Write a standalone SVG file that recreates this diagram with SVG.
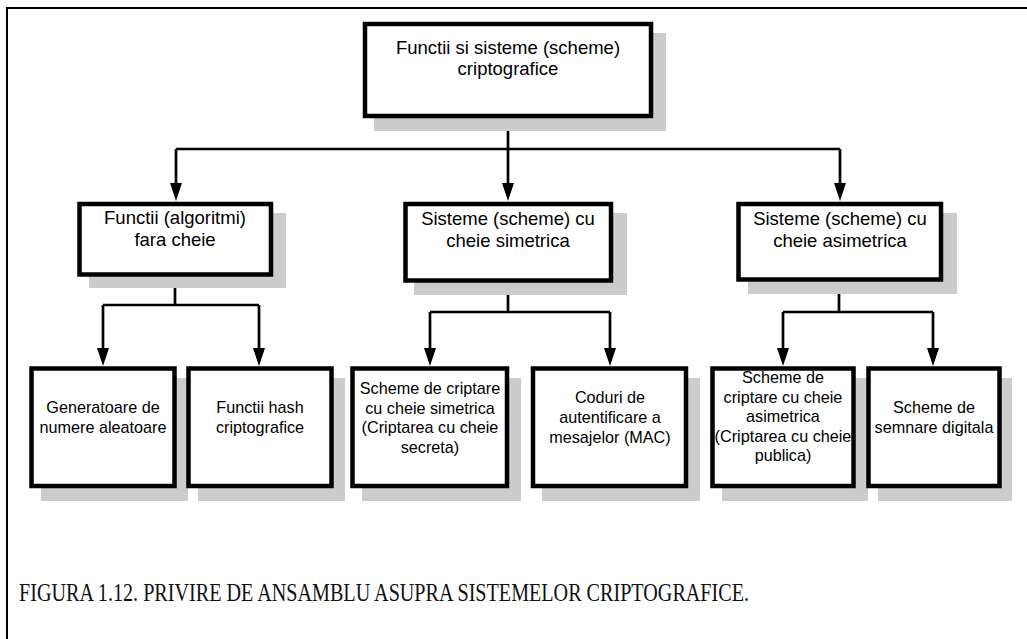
<svg xmlns="http://www.w3.org/2000/svg" width="1027" height="639" viewBox="0 0 1027 639">
  <defs>
    <style>
      .frame { fill: none; stroke: #000; stroke-width: 2; }
      .shadow { fill: #cccccc; stroke: none; }
      .box { fill: #fff; stroke: #000; stroke-width: 4.5; }
      .wire { fill: none; stroke: #000; stroke-width: 2.7; }
      .head { fill: #000; stroke: none; }
      .lbl { font-family: "Liberation Sans", Arial, sans-serif; fill: #000; text-anchor: middle; }
      .big { font-size: 18.5px; }
      .small { font-size: 16.2px; }
      .caption { font-family: "Liberation Serif", "DejaVu Serif", serif; font-size: 26px; fill: #111; }
    </style>
  </defs>

  <rect width="1027" height="639" fill="#fff"/>
  <path class="frame" d="M7,639 L7,8 L1027,8"/>

  <!-- connectors: lines plus filled arrowheads -->
  <g id="connectors">
    <!-- root to second level -->
    <path class="wire" d="M508,118 L508,184"/>
    <path class="wire" d="M176,149 L840,149"/>
    <path class="wire" d="M176,149 L176,184"/>
    <path class="wire" d="M840,149 L840,184"/>
    <path class="head" d="M170,183 L182,183 L176,201 Z"/>
    <path class="head" d="M502,183 L514,183 L508,201 Z"/>
    <path class="head" d="M834,183 L846,183 L840,201 Z"/>

    <!-- keyless functions -->
    <path class="wire" d="M175,277 L175,305"/>
    <path class="wire" d="M103,305 L259,305"/>
    <path class="wire" d="M103,305 L103,349"/>
    <path class="wire" d="M259,305 L259,349"/>
    <path class="head" d="M97,348 L109,348 L103,366 Z"/>
    <path class="head" d="M253,348 L265,348 L259,366 Z"/>

    <!-- symmetric key -->
    <path class="wire" d="M508,283 L508,312"/>
    <path class="wire" d="M430,312 L610,312"/>
    <path class="wire" d="M430,312 L430,349"/>
    <path class="wire" d="M610,312 L610,349"/>
    <path class="head" d="M424,348 L436,348 L430,366 Z"/>
    <path class="head" d="M604,348 L616,348 L610,366 Z"/>

    <!-- asymmetric key -->
    <path class="wire" d="M839,282 L839,312"/>
    <path class="wire" d="M783,312 L933,312"/>
    <path class="wire" d="M783,312 L783,349"/>
    <path class="wire" d="M933,312 L933,349"/>
    <path class="head" d="M777,348 L789,348 L783,366 Z"/>
    <path class="head" d="M927,348 L939,348 L933,366 Z"/>
  </g>

  <!-- root -->
  <g id="root">
    <rect class="shadow" x="374" y="33" width="292" height="98"/>
    <rect class="box" x="365" y="24" width="286" height="92"/>
    <text class="lbl big" x="508" y="54">Functii si sisteme (scheme)</text>
    <text class="lbl big" x="508" y="75">criptografice</text>
  </g>

  <!-- second level -->
  <g id="keyless">
    <rect class="shadow" x="89" y="213" width="197" height="75"/>
    <rect class="box" x="79.5" y="204" width="191.5" height="70.5"/>
    <text class="lbl big" x="175" y="224">Functii (algoritmi)</text>
    <text class="lbl big" x="175" y="246">fara cheie</text>
  </g>

  <g id="symmetric">
    <rect class="shadow" x="414" y="213" width="213" height="82"/>
    <rect class="box" x="405.5" y="204" width="205.5" height="76.5"/>
    <text class="lbl big" x="508" y="225">Sisteme (scheme) cu</text>
    <text class="lbl big" x="508" y="247">cheie simetrica</text>
  </g>

  <g id="asymmetric">
    <rect class="shadow" x="748" y="213" width="209" height="81"/>
    <rect class="box" x="738.5" y="204" width="202.5" height="75.5"/>
    <text class="lbl big" x="840" y="225">Sisteme (scheme) cu</text>
    <text class="lbl big" x="840" y="247">cheie asimetrica</text>
  </g>

  <!-- third level -->
  <g id="rng">
    <rect class="shadow" x="41" y="378" width="147" height="123"/>
    <rect class="box" x="31.5" y="368.5" width="143" height="117.5"/>
    <text class="lbl small" x="103" y="413">Generatoare de</text>
    <text class="lbl small" x="103" y="433">numere aleatoare</text>
  </g>

  <g id="hash">
    <rect class="shadow" x="198" y="378" width="147" height="123"/>
    <rect class="box" x="188.5" y="368.5" width="143" height="117.5"/>
    <text class="lbl small" x="260" y="413">Functii hash</text>
    <text class="lbl small" x="260" y="433">criptografice</text>
  </g>

  <g id="symmetric-encryption">
    <rect class="shadow" x="362" y="378" width="159" height="123"/>
    <rect class="box" x="352.5" y="368.5" width="154.5" height="117.5"/>
    <text class="lbl small" x="430" y="394">Scheme de criptare</text>
    <text class="lbl small" x="430" y="413.5">cu cheie simetrica</text>
    <text class="lbl small" x="430" y="433">(Criptarea cu cheie</text>
    <text class="lbl small" x="430" y="452.5">secreta)</text>
  </g>

  <g id="mac">
    <rect class="shadow" x="542" y="378" width="158" height="123"/>
    <rect class="box" x="533" y="368.5" width="153" height="117.5"/>
    <text class="lbl small" x="610" y="403">Coduri de</text>
    <text class="lbl small" x="610" y="423">autentificare a</text>
    <text class="lbl small" x="610" y="442.5">mesajelor (MAC)</text>
  </g>

  <g id="public-key-encryption">
    <rect class="shadow" x="722" y="378" width="146" height="123"/>
    <rect class="box" x="712.5" y="368.5" width="141" height="117.5"/>
    <text class="lbl small" x="783" y="383">Scheme de</text>
    <text class="lbl small" x="783" y="403">criptare cu cheie</text>
    <text class="lbl small" x="783" y="422">asimetrica</text>
    <text class="lbl small" x="783" y="442">(Criptarea cu cheie</text>
    <text class="lbl small" x="783" y="461">publica)</text>
  </g>

  <g id="signatures">
    <rect class="shadow" x="878" y="378" width="134" height="123"/>
    <rect class="box" x="868.5" y="368.5" width="131" height="117.5"/>
    <text class="lbl small" x="934" y="413">Scheme de</text>
    <text class="lbl small" x="934" y="433">semnare digitala</text>
  </g>

  <text class="caption" x="19" y="601" textLength="730" lengthAdjust="spacingAndGlyphs">FIGURA 1.12. PRIVIRE DE ANSAMBLU ASUPRA SISTEMELOR CRIPTOGRAFICE.</text>
</svg>
